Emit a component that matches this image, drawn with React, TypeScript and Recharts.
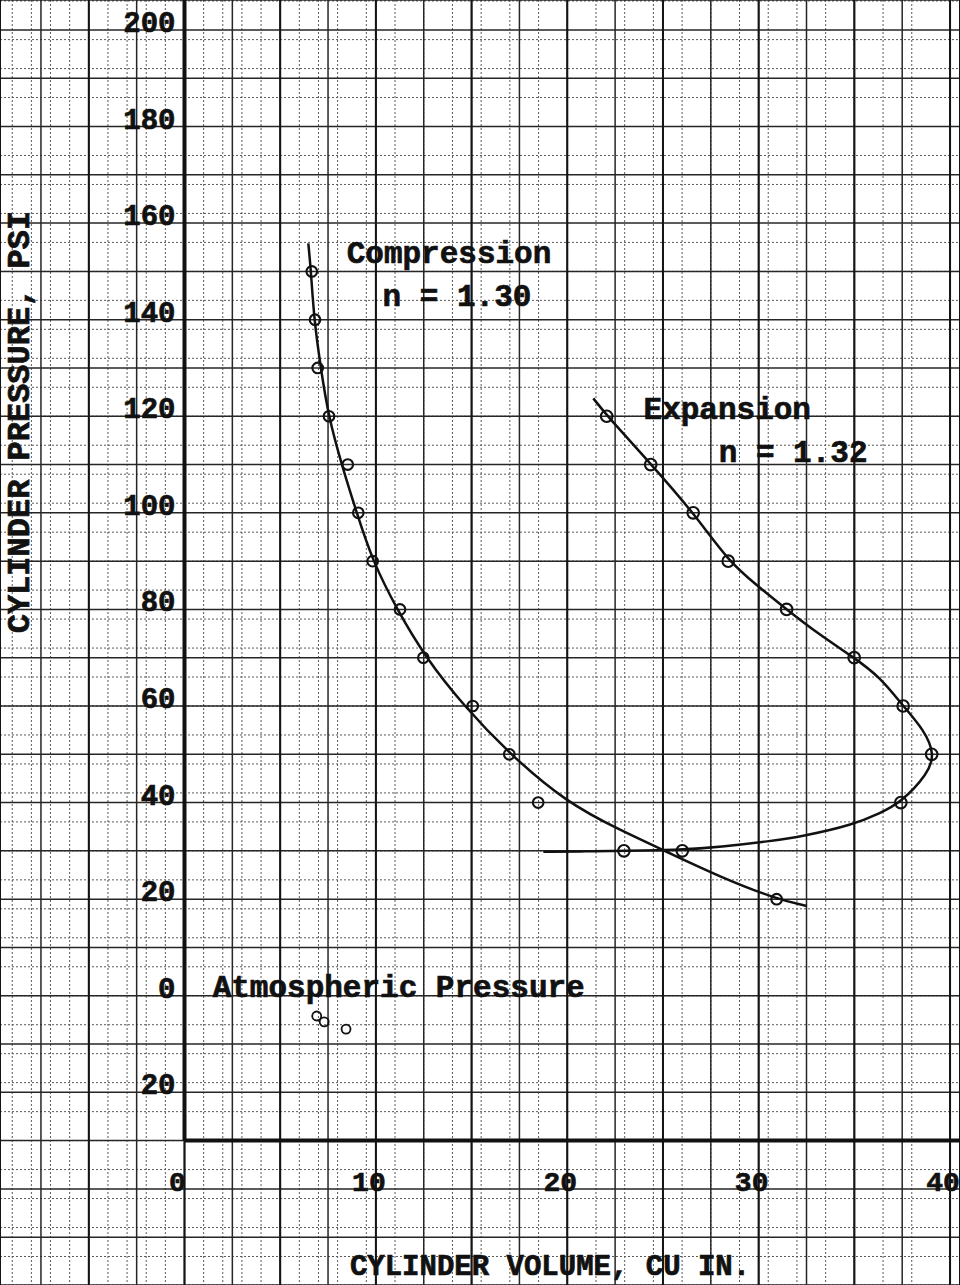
import React from 'react';
import {
  ComposedChart,
  XAxis,
  YAxis,
  CartesianGrid,
  Line,
  Scatter,
  ReferenceLine,
} from 'recharts';

// ---------------- data ----------------
// measured points (open circles)
const compressionPoints = [
  { x: 6.65, y: 150 },
  { x: 6.82, y: 140 },
  { x: 6.96, y: 130 },
  { x: 7.55, y: 120 },
  { x: 8.53, y: 110 },
  { x: 9.08, y: 100 },
  { x: 9.83, y: 90 },
  { x: 11.26, y: 80 },
  { x: 12.48, y: 70 },
  { x: 15.06, y: 60 },
  { x: 16.97, y: 50 },
  { x: 18.48, y: 40 },
  { x: 30.94, y: 20 },
];

const expansionPoints = [
  { x: 22.06, y: 120 },
  { x: 24.36, y: 110 },
  { x: 26.58, y: 100 },
  { x: 28.41, y: 90 },
  { x: 31.46, y: 80 },
  { x: 34.99, y: 70 },
  { x: 37.55, y: 60 },
  { x: 39.04, y: 50 },
  { x: 37.43, y: 40 },
  { x: 26.01, y: 30 },
  { x: 22.96, y: 30 },
];

const atmosphericPoints = [
  { x: 6.91, y: -4.2 },
  { x: 7.3, y: -5.4 },
  { x: 8.44, y: -6.9 },
];

// faired curves
const compressionCurve = [
  { x: 6.47, y: 155.8 },
  { x: 6.61, y: 150 },
  { x: 6.77, y: 140 },
  { x: 7.12, y: 130 },
  { x: 7.52, y: 120 },
  { x: 8.21, y: 110 },
  { x: 9.0, y: 100 },
  { x: 9.83, y: 90 },
  { x: 11.1, y: 80 },
  { x: 12.6, y: 70 },
  { x: 14.6, y: 60 },
  { x: 17.0, y: 50 },
  { x: 19.97, y: 40 },
  { x: 22.75, y: 34.3 },
  { x: 25.1, y: 30 },
  { x: 27.98, y: 24.6 },
  { x: 30.94, y: 20 },
  { x: 32.51, y: 18.6 },
];

const expansionCurve = [
  { x: 18.75, y: 29.8 },
  { x: 21.0, y: 29.9 },
  { x: 22.96, y: 30 },
  { x: 26.01, y: 30.2 },
  { x: 27.98, y: 30.8 },
  { x: 30.59, y: 32.0 },
  { x: 32.3, y: 33.0 },
  { x: 34.94, y: 35.4 },
  { x: 36.34, y: 37.8 },
  { x: 37.43, y: 40 },
  { x: 38.85, y: 46 },
  { x: 39.2, y: 50 },
  { x: 38.65, y: 55 },
  { x: 37.55, y: 60 },
  { x: 36.34, y: 66 },
  { x: 34.99, y: 70 },
  { x: 33.2, y: 74.7 },
  { x: 31.46, y: 80 },
  { x: 29.9, y: 85 },
  { x: 28.41, y: 90 },
  { x: 26.6, y: 100 },
  { x: 24.4, y: 110 },
  { x: 22.1, y: 120 },
  { x: 21.36, y: 123.7 },
];

// tick labels
const yTickValues = [200, 180, 160, 140, 120, 100, 80, 60, 40, 20, 0, -20];
const yTickLabels = ['200', '180', '160', '140', '120', '100', '80', '60', '40', '20', '0', '20'];
const xTickValues = [0, 10, 20, 30, 40];
const xTickLabels = ['0', '10', '20', '30', '40'];

const xTitle = 'CYLINDER VOLUME, CU IN.';
const yTitle = 'CYLINDER PRESSURE, PSI';

const notes = [
  { x: 13.82, y: 153.4, text: 'Compression' },
  { x: 14.24, y: 144.6, text: 'n = 1.30' },
  { x: 28.36, y: 121.2, text: 'Expansion' },
  { x: 31.8, y: 112.2, text: 'n = 1.32' },
  { x: 11.19, y: 1.5, text: 'Atmospheric Pressure' },
];

// ---------------- chart frame (graph paper) ----------------
const X_DOMAIN: [number, number] = [-9.64, 40.52];
const Y_DOMAIN: [number, number] = [-59.9, 206.2];
const AXIS_X = 0;
const AXIS_Y = -30;

const steps = (start: number, count: number, step: number) =>
  Array.from({ length: count }, (_, i) => Math.round((start + i * step) * 1000) / 1000);

const xMinor = steps(-9.5, 101, 0.5);
const xMid = steps(-7.5, 20, 2.5);
const xMajor = steps(-5, 10, 5);
const yMinor = steps(-58, 133, 2);
const yMajor = steps(-50, 26, 10);

const FONT = "'Liberation Mono', 'DejaVu Sans Mono', monospace";
const INK = '#111';

const yTickData = yTickValues.map((v, i) => ({ x: AXIS_X, y: v, label: yTickLabels[i] }));
const xTickData = xTickValues.map((v, i) => ({ x: v, y: AXIS_Y, label: xTickLabels[i] }));
const xTitleData = [{ x: 19.1, y: -56.2, label: xTitle }];
const yTitleData = [{ x: -8.57, y: 118.8, label: yTitle }];

const labelOf = (p: any) => (p.payload && p.payload.label) ?? p.label;

const textBase = {
  fontFamily: FONT,
  fontWeight: 700,
  fill: INK,
  stroke: INK,
  strokeWidth: 0.7,
};

const ring = (r: number, sw: number) => (p: any) => (
  <circle cx={p.cx} cy={p.cy} r={r} fill="none" stroke={INK} strokeWidth={sw} />
);

const YTick = (p: any) => (
  <text x={p.cx - 9} y={p.cy + 2} textAnchor="end" fontSize={29} {...textBase}>
    {labelOf(p)}
  </text>
);

const XTick = (p: any) => (
  <text x={p.cx - 7} y={p.cy + 50} textAnchor="middle" fontSize={28} {...textBase}>
    {labelOf(p)}
  </text>
);

const NoteText = (p: any) => (
  <text x={p.cx} y={p.cy} textAnchor="middle" dominantBaseline="central" fontSize={31} {...textBase}>
    {(p.payload && p.payload.text) ?? p.text}
  </text>
);

const XTitle = (p: any) => (
  <text x={p.cx} y={p.cy} textAnchor="middle" dominantBaseline="central" fontSize={29} {...textBase}>
    {labelOf(p)}
  </text>
);

const YTitle = (p: any) => (
  <text
    x={p.cx}
    y={p.cy}
    transform={`rotate(-90 ${p.cx} ${p.cy})`}
    textAnchor="middle"
    dominantBaseline="central"
    fontSize={32}
    {...textBase}
  >
    {labelOf(p)}
  </text>
);

export default function App() {
  return (
    <div
      style={{
        position: 'absolute',
        left: 0,
        top: 0,
        width: 960,
        height: 1285,
        background: '#ffffff',
        overflow: 'hidden',
      }}
    >
      <ComposedChart width={960} height={1285} margin={{ top: 0, right: 0, bottom: 0, left: 0 }}>
        <XAxis xAxisId={0} type="number" dataKey="x" domain={X_DOMAIN} ticks={xMajor} hide allowDataOverflow />
        <XAxis xAxisId="mid" type="number" dataKey="x" domain={X_DOMAIN} ticks={xMid} hide allowDataOverflow />
        <XAxis xAxisId="minor" type="number" dataKey="x" domain={X_DOMAIN} ticks={xMinor} hide allowDataOverflow />
        <YAxis yAxisId={0} type="number" dataKey="y" domain={Y_DOMAIN} ticks={yMajor} hide allowDataOverflow />
        <YAxis yAxisId="minor" type="number" dataKey="y" domain={Y_DOMAIN} ticks={yMinor} hide allowDataOverflow />

        <CartesianGrid xAxisId="minor" yAxisId="minor" stroke="#5a5a5a" strokeWidth={1} strokeDasharray="2 2" />
        <CartesianGrid xAxisId="mid" yAxisId={0} stroke="#262626" strokeWidth={1.5} />
        <CartesianGrid xAxisId={0} yAxisId={0} horizontal={false} stroke="#141414" strokeWidth={2} />

        <ReferenceLine
          segment={[{ x: AXIS_X, y: AXIS_Y }, { x: AXIS_X, y: 215 }]}
          stroke={INK}
          strokeWidth={4}
          ifOverflow="visible"
        />
        <ReferenceLine
          segment={[{ x: AXIS_X, y: AXIS_Y }, { x: 42, y: AXIS_Y }]}
          stroke={INK}
          strokeWidth={4}
          ifOverflow="visible"
        />

        <Line
          data={compressionCurve}
          dataKey="y"
          type="basis"
          stroke={INK}
          strokeWidth={2.5}
          dot={false}
          activeDot={false}
          isAnimationActive={false}
        />
        <Line
          data={expansionCurve}
          dataKey="y"
          type="basis"
          stroke={INK}
          strokeWidth={2.5}
          dot={false}
          activeDot={false}
          isAnimationActive={false}
        />

        <Scatter data={compressionPoints} shape={ring(5.3, 2.1)} isAnimationActive={false} />
        <Scatter data={expansionPoints} shape={ring(5.8, 2.1)} isAnimationActive={false} />
        <Scatter data={atmosphericPoints} shape={ring(4.5, 1.8)} isAnimationActive={false} />

        <Scatter data={yTickData} shape={YTick} isAnimationActive={false} />
        <Scatter data={xTickData} shape={XTick} isAnimationActive={false} />
        <Scatter data={notes} shape={NoteText} isAnimationActive={false} />
        <Scatter data={xTitleData} shape={XTitle} isAnimationActive={false} />
        <Scatter data={yTitleData} shape={YTitle} isAnimationActive={false} />
      </ComposedChart>
    </div>
  );
}
